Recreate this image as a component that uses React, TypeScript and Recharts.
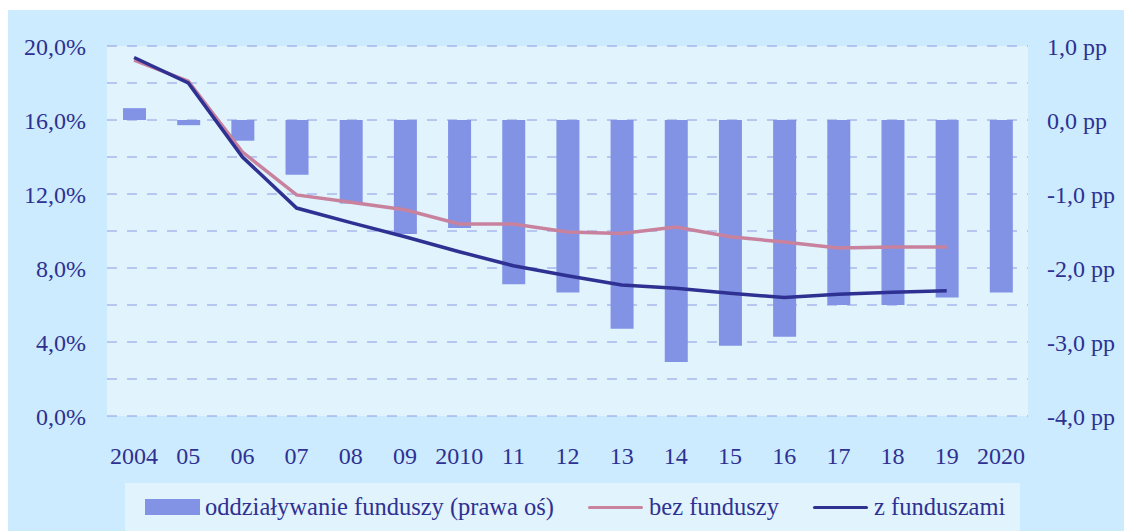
import {
  ComposedChart,
  Bar,
  Line,
  XAxis,
  YAxis,
  CartesianGrid,
  Legend,
} from "recharts";

const years = ["2004", "05", "06", "07", "08", "09", "2010", "11", "12", "13", "14", "15", "16", "17", "18", "19", "2020"];

// wpływ funduszy, pp (prawa oś)
const fundImpact = [0.16, -0.07, -0.28, -0.74, -1.13, -1.54, -1.46, -2.22, -2.33, -2.82, -3.27, -3.05, -2.93, -2.5, -2.5, -2.4, -2.33];

// % (lewa oś)
const withoutFunds = [19.24, 18.1, 14.27, 11.95, 11.55, 11.15, 10.38, 10.38, 9.95, 9.87, 10.22, 9.69, 9.4, 9.08, 9.13, 9.13, null];
const withFunds = [19.38, 18.0, 14.0, 11.24, 10.45, 9.69, 8.88, 8.12, 7.58, 7.08, 6.9, 6.63, 6.4, 6.58, 6.69, 6.77, null];

const leftTicks = [0, 4, 8, 12, 16, 20];
const gridValues = [0, 2, 4, 6, 8, 10, 12, 14, 16, 18, 20];
const rightTicks = [-4, -3, -2, -1, 0, 1];

const data = years.map((year, i) => ({
  year,
  impact: fundImpact[i],
  bez: withoutFunds[i],
  z: withFunds[i],
}));

const TEXT = "#2e3192";
const BAR = "#8293e6";
const PINK = "#c9829d";
const NAVY = "#2e3192";
const FONT = "Liberation Serif, serif";

const fmt = (v: number) => v.toFixed(1).replace(".", ",");

function LegendBox() {
  const item = { display: "flex", alignItems: "center" } as const;
  return (
    <div
      style={{
        width: 895,
        height: 48,
        background: "#e1f3fd",
        display: "flex",
        alignItems: "center",
        paddingLeft: 20,
        boxSizing: "border-box",
        gap: 34,
        fontFamily: FONT,
        fontSize: 24.5,
        color: TEXT,
      }}
    >
      <div style={item}>
        <span style={{ width: 55, height: 16, background: BAR, marginRight: 5, display: "inline-block" }} />
        <span style={{ fontFamily: FONT }}>oddziaływanie funduszy (prawa oś)</span>
      </div>
      <div style={item}>
        <span style={{ width: 55, height: 3, background: PINK, marginRight: 6, display: "inline-block", borderRadius: 2 }} />
        <span style={{ fontFamily: FONT }}>bez funduszy</span>
      </div>
      <div style={item}>
        <span style={{ width: 55, height: 3, background: NAVY, marginRight: 6, display: "inline-block", borderRadius: 2 }} />
        <span style={{ fontFamily: FONT }}>z funduszami</span>
      </div>
    </div>
  );
}

export default function App() {
  return (
    <div style={{ paddingTop: 10, paddingLeft: 8 }}>
      <style>{`body{margin:0;overflow:hidden}`}</style>
      <div style={{ width: 1116, height: 521, background: "#cdebfe", position: "relative" }}>
        <ComposedChart
          width={1116}
          height={521}
          data={data}
          margin={{ top: 36, right: 0, left: 0, bottom: 55 }}
        >
          <CartesianGrid
            yAxisId="left"
            vertical={false}
            horizontalValues={gridValues}
            fill="#e1f3fd"
            fillOpacity={1}
            stroke="#8a9ae6"
            strokeDasharray="10 10"
          />
          <XAxis
            dataKey="year"
            height={60}
            axisLine={false}
            tickLine={false}
            tickSize={0}
            tickMargin={31}
            interval={0}
            tick={{ fill: TEXT, fontSize: 24, fontFamily: FONT }}
          />
          <YAxis
            yAxisId="left"
            orientation="left"
            width={99}
            domain={[0, 20]}
            ticks={leftTicks}
            axisLine={false}
            tickLine={false}
            tickSize={0}
            tickMargin={21}
            tickFormatter={(v: number) => `${fmt(v)}%`}
            tick={{ fill: TEXT, fontSize: 24, fontFamily: FONT }}
          />
          <YAxis
            yAxisId="right"
            orientation="right"
            width={96}
            domain={[-4, 1]}
            ticks={rightTicks}
            axisLine={false}
            tickLine={false}
            tickSize={0}
            tickMargin={19}
            tickFormatter={(v: number) => `${fmt(v)} pp`}
            tick={{ fill: TEXT, fontSize: 24, fontFamily: FONT }}
          />
          <Legend
            layout="horizontal"
            verticalAlign="middle"
            align="center"
            wrapperStyle={{ left: 117, top: 473, width: 895, height: 48 }}
            content={() => <LegendBox />}
          />
          <Bar
            yAxisId="right"
            dataKey="impact"
            name="oddziaływanie funduszy (prawa oś)"
            fill={BAR}
            barSize={23}
            isAnimationActive={false}
          />
          <Line
            yAxisId="left"
            type="linear"
            dataKey="bez"
            name="bez funduszy"
            stroke={PINK}
            strokeWidth={3.5}
            dot={false}
            activeDot={false}
            isAnimationActive={false}
          />
          <Line
            yAxisId="left"
            type="linear"
            dataKey="z"
            name="z funduszami"
            stroke={NAVY}
            strokeWidth={3.5}
            dot={false}
            activeDot={false}
            isAnimationActive={false}
          />
        </ComposedChart>
      </div>
    </div>
  );
}
